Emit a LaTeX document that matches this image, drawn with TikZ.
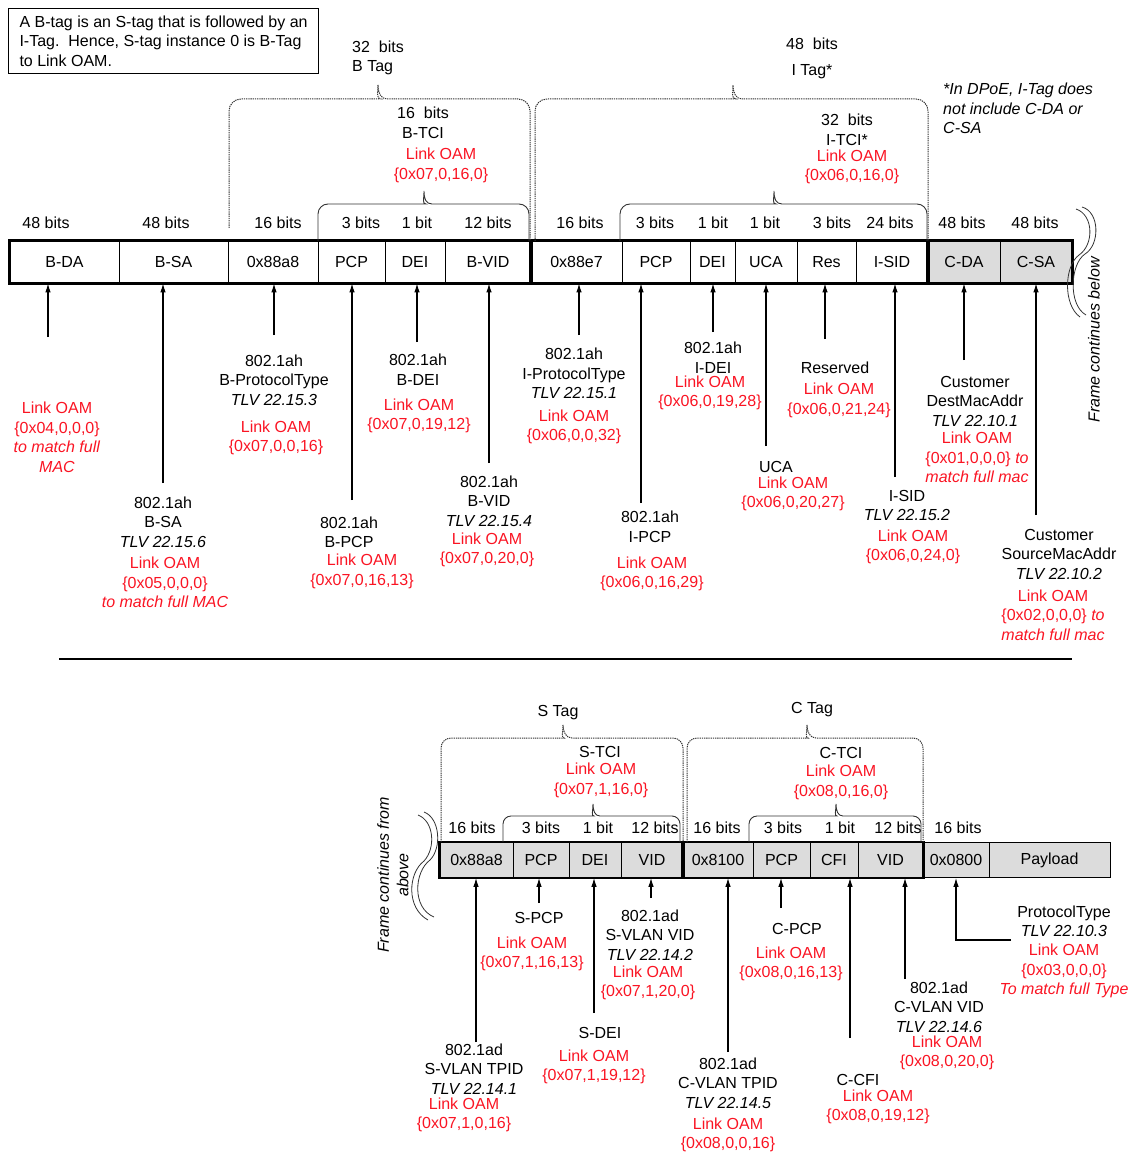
\documentclass[tikz,border=0pt]{standalone}
\usepackage{fontspec}
\setmainfont{Liberation Sans}
\usepackage{tikz}
\usetikzlibrary{arrows.meta, positioning}
\definecolor{oamcolor}{RGB}{250,20,35}
\definecolor{fieldgray}{RGB}{220,220,220}
\newcommand{\diagfont}{\fontsize{16}{19.5}\selectfont}

\begin{document}
\begin{tikzpicture}[
    x=1pt, y=-1pt,
    font=\diagfont,
    field/.style={draw, line width=0.8pt, minimum height=42, inner sep=0pt},
    cfield/.style={field, fill=fieldgray},
    sfield/.style={field, fill=fieldgray, minimum height=35},
    group/.style={line width=2.6pt},
    bits/.style={inner sep=0pt},
    desc/.style={align=center, inner sep=0pt},
    oam/.style={desc, text=oamcolor},
    tagbrace/.style={dash pattern=on 1.3pt off 0.9pt, line width=1pt, black!80},
    tcibrace/.style={line width=0.9pt, black!80},
    contbrace/.style={line width=0.8pt, black!80},
    arrow/.style={-{Latex[length=9pt, width=5.5pt]}, line width=1.1pt}
]
    \useasboundingbox (0,0) rectangle (1134,1155);

    % note on the B-tag
    \node[draw, line width=1.2pt, anchor=north west, minimum width=310, minimum height=65, align=left, inner sep=5pt] (note) at (8,8)
        {A B-tag is an S-tag that is followed by an\\I-Tag.\ \ Hence, S-tag instance 0 is B-Tag\\to Link OAM.};
    \node[desc, anchor=west, align=left, font=\diagfont\itshape] (dpoe) at (943,108.5) {*In DPoE, I-Tag does\\not include C-DA or\\C-SA};

    % top frame
    \node[field, minimum width=109] (bda) at (64.5,262) {B-DA};
    \node[field, minimum width=109] (bsa) at (173.5,262) {B-SA};
    \node[field, minimum width=90] (bpt) at (273,262) {0x88a8};
    \node[field, minimum width=67] (bpcp) at (351.5,262) {PCP};
    \node[field, minimum width=60] (bdei) at (415,262) {DEI};
    \node[field, minimum width=86] (bvid) at (488,262) {B-VID};
    \node[field, minimum width=91] (ipt) at (576.5,262) {0x88e7};
    \node[field, minimum width=68] (ipcp) at (656,262) {PCP};
    \node[field, minimum width=45] (idei) at (712.5,262) {DEI};
    \node[field, minimum width=62] (iuca) at (766,262) {UCA};
    \node[field, minimum width=59] (ires) at (826.5,262) {Res};
    \node[field, minimum width=72] (isid) at (892,262) {I-SID};
    \node[cfield, minimum width=72] (cda) at (964,262) {C-DA};
    \node[cfield, minimum width=72] (csa) at (1036,262) {C-SA};
    \draw[group] (bda.north west) rectangle (bvid.south east);
    \draw[group] (ipt.north west) rectangle (isid.south east);
    \draw[group] (cda.north west) rectangle (csa.south east);

    % sizes above the top frame
    \node[bits] (bits1) at (46,223) {48 bits};
    \node[bits] (bits2) at (166,223) {48 bits};
    \node[bits] (bits3) at (278,223) {16 bits};
    \node[bits] (bits4) at (361,223) {3 bits};
    \node[bits] (bits5) at (417,223) {1 bit};
    \node[bits] (bits6) at (488,223) {12 bits};
    \node[bits] (bits7) at (580,223) {16 bits};
    \node[bits] (bits8) at (655,223) {3 bits};
    \node[bits] (bits9) at (713,223) {1 bit};
    \node[bits] (bits10) at (765,223) {1 bit};
    \node[bits] (bits11) at (832,223) {3 bits};
    \node[bits] (bits12) at (890,223) {24 bits};
    \node[bits] (bits13) at (962,223) {48 bits};
    \node[bits] (bits14) at (1035,223) {48 bits};

    % tags over the top frame
    \node[desc, align=left] (btag) at (378,58) {32~~bits\\B Tag};
    \node[desc] (itag) at (812,58.5) {48~~bits\\[7pt]I Tag*};
    \node[desc] (btci) at (423,123) {16~~bits\\B-TCI};
    \node[oam] (btcioam) at (441,165.5) {Link OAM\\\{0x07,0,16,0\}};
    \node[desc] (itci) at (847,130) {32~~bits\\I-TCI*};
    \node[oam] (itcioam) at (852,167) {Link OAM\\\{0x06,0,16,0\}};

    \draw[tagbrace] (229,228) [rounded corners=12] |- (369,99) [sharp corners] .. controls (376,99) and (378,93) .. (378,85) .. controls (378,93) and (381,99) .. (387,99) [rounded corners=12] -| (530,241);
    \draw[tagbrace] (535,241) [rounded corners=12] |- (724,99) [sharp corners] .. controls (731,99) and (733,93) .. (733,85) .. controls (733,93) and (736,99) .. (742,99) [rounded corners=12] -| (928,241);
    \draw[tcibrace] (318,241) [rounded corners=10] |- (416,204) [sharp corners] .. controls (422,204) and (424,199) .. (424,191) .. controls (424,199) and (426,204) .. (432,204) [rounded corners=10] -| (529,241);
    \draw[tcibrace] (620,241) [rounded corners=10] |- (766,204) [sharp corners] .. controls (772,204) and (774,199) .. (774,191) .. controls (774,199) and (776,204) .. (782,204) [rounded corners=10] -| (927,241);

    % frame continues below
    \draw[contbrace] (1082,207) .. controls (1100,212) and (1100,245) .. (1085,254) .. controls (1070,264) and (1068,305) .. (1086,315);
    \draw[contbrace] (1076,209) .. controls (1094,215) and (1094,245) .. (1079,255) .. controls (1064,266) and (1063,305) .. (1080,317);
    \node[desc, rotate=90, font=\diagfont\itshape] (contbelow) at (1094,340) {Frame continues below};

    % labels under the top frame
    \node[oam] (bdaoam) at (57,437.5) {Link OAM\\\{0x04,0,0,0\}\\\textit{to match full}\\\textit{MAC}};
    \node[desc] (bsalbl) at (163,522) {802.1ah\\B-SA\\\textit{TLV 22.15.6}};
    \node[oam] (bsaoam) at (165,582.5) {Link OAM\\\{0x05,0,0,0\}\\\textit{to match full MAC}};
    \node[desc] (bptlbl) at (274,380) {802.1ah\\B-ProtocolType\\\textit{TLV 22.15.3}};
    \node[oam] (bptoam) at (276,438) {Link OAM\\\{0x07,0,0,16\}};
    \node[desc] (bpcplbl) at (349,532.5) {802.1ah\\B-PCP};
    \node[oam] (bpcpoam) at (362,571.5) {Link OAM\\\{0x07,0,16,13\}};
    \node[desc] (bdeilbl) at (418,369.5) {802.1ah\\B-DEI};
    \node[oam] (bdeioam) at (419,416) {Link OAM\\\{0x07,0,19,12\}};
    \node[desc] (bvidlbl) at (489,501) {802.1ah\\B-VID\\\textit{TLV 22.15.4}};
    \node[oam] (bvidoam) at (487,550) {Link OAM\\\{0x07,0,20,0\}};
    \node[desc] (iptlbl) at (574,373.5) {802.1ah\\I-ProtocolType\\\textit{TLV 22.15.1}};
    \node[oam] (iptoam) at (574,427) {Link OAM\\\{0x06,0,0,32\}};
    \node[desc] (ipcplbl) at (650,527) {802.1ah\\I-PCP};
    \node[oam] (ipcpoam) at (652,574) {Link OAM\\\{0x06,0,16,29\}};
    \node[desc] (ideilbl) at (713,357.5) {802.1ah\\I-DEI};
    \node[oam] (ideioam) at (710,393) {Link OAM\\\{0x06,0,19,28\}};
    \node[desc] (iucalbl) at (776,467) {UCA};
    \node[oam] (iucaoam) at (793,494) {Link OAM\\\{0x06,0,20,27\}};
    \node[desc] (ireslbl) at (835,368) {Reserved};
    \node[oam] (iresoam) at (839,400.5) {Link OAM\\\{0x06,0,21,24\}};
    \node[desc] (isidlbl) at (907,505.5) {I-SID\\\textit{TLV 22.15.2}};
    \node[oam] (isidoam) at (913,547) {Link OAM\\\{0x06,0,24,0\}};
    \node[desc] (cdalbl) at (975,401) {Customer\\DestMacAddr\\\textit{TLV 22.10.1}};
    \node[oam] (cdaoam) at (977,457.5) {Link OAM\\\{0x01,0,0,0\} \textit{to}\\\textit{match full mac}};
    \node[desc] (csalbl) at (1059,554) {Customer\\SourceMacAddr\\\textit{TLV 22.10.2}};
    \node[oam] (csaoam) at (1053,615) {Link OAM\\\{0x02,0,0,0\} \textit{to}\\\textit{match full mac}};

    \coordinate (tbda) at (48,337);
    \coordinate (tbsa) at (163,483);
    \coordinate (tbpt) at (274,335);
    \coordinate (tbpcp) at (352,500);
    \coordinate (tbdei) at (417,342);
    \coordinate (tbvid) at (489,463);
    \coordinate (tipt) at (579,335);
    \coordinate (tipcp) at (641,503);
    \coordinate (tidei) at (713,332);
    \coordinate (tiuca) at (766,446);
    \coordinate (tires) at (825,339);
    \coordinate (tisid) at (895,477);
    \coordinate (tcda) at (964,360);
    \coordinate (tcsa) at (1036,515);
    \draw[arrow] (tbda) -- (tbda |- bda.south);
    \draw[arrow] (tbsa) -- (tbsa |- bsa.south);
    \draw[arrow] (tbpt) -- (tbpt |- bpt.south);
    \draw[arrow] (tbpcp) -- (tbpcp |- bpcp.south);
    \draw[arrow] (tbdei) -- (tbdei |- bdei.south);
    \draw[arrow] (tbvid) -- (tbvid |- bvid.south);
    \draw[arrow] (tipt) -- (tipt |- ipt.south);
    \draw[arrow] (tipcp) -- (tipcp |- ipcp.south);
    \draw[arrow] (tidei) -- (tidei |- idei.south);
    \draw[arrow] (tiuca) -- (tiuca |- iuca.south);
    \draw[arrow] (tires) -- (tires |- ires.south);
    \draw[arrow] (tisid) -- (tisid |- isid.south);
    \draw[arrow] (tcda) -- (tcda |- cda.south);
    \draw[arrow] (tcsa) -- (tcsa |- csa.south);

    % separator
    \draw[line width=1.2pt] (59,659) -- (1072,659);

    % bottom frame
    \node[sfield, minimum width=73] (s88a8) at (476.5,860) {0x88a8};
    \node[sfield, minimum width=56] (spcp) at (541,860) {PCP};
    \node[sfield, minimum width=52] (sdei) at (595,860) {DEI};
    \node[sfield, minimum width=62] (svid) at (652,860) {VID};
    \node[sfield, minimum width=70] (c8100) at (718,860) {0x8100};
    \node[sfield, minimum width=57] (cpcp) at (781.5,860) {PCP};
    \node[sfield, minimum width=48] (ccfi) at (834,860) {CFI};
    \node[sfield, minimum width=65] (cvid) at (890.5,860) {VID};
    \node[sfield, minimum width=66] (p0800) at (956,860) {0x0800};
    \node[sfield, minimum width=121] (payload) at (1049.5,860) {Payload};
    \draw[group] (s88a8.north west) rectangle (svid.south east);
    \draw[group] (c8100.north west) rectangle (cvid.south east);

    \node[bits] (sbits1) at (472,828) {16 bits};
    \node[bits] (sbits2) at (541,828) {3 bits};
    \node[bits] (sbits3) at (598,828) {1 bit};
    \node[bits] (sbits4) at (655,828) {12 bits};
    \node[bits] (cbits1) at (717,828) {16 bits};
    \node[bits] (cbits2) at (783,828) {3 bits};
    \node[bits] (cbits3) at (840,828) {1 bit};
    \node[bits] (cbits4) at (898,828) {12 bits};
    \node[bits] (pbits) at (958,828) {16 bits};

    \node[desc] (stag) at (558,713) {S Tag};
    \node[desc] (ctag) at (812,710) {C Tag};
    \node[desc] (stci) at (600,752) {S-TCI};
    \node[oam] (stcioam) at (601,780.5) {Link OAM\\\{0x07,1,16,0\}};
    \node[desc] (ctci) at (841,753) {C-TCI};
    \node[oam] (ctcioam) at (841,782.5) {Link OAM\\\{0x08,0,16,0\}};

    \draw[tagbrace] (441,842) [rounded corners=10] |- (554,738) [sharp corners] .. controls (561,738) and (563,732) .. (563,725) .. controls (563,732) and (566,738) .. (572,738) [rounded corners=10] -| (683,842);
    \draw[tagbrace] (687,842) [rounded corners=10] |- (798,738) [sharp corners] .. controls (805,738) and (807,732) .. (807,725) .. controls (807,732) and (810,738) .. (816,738) [rounded corners=10] -| (923,842);
    \draw[tcibrace] (503,842) [rounded corners=8] |- (586,816) [sharp corners] .. controls (591,816) and (593,811) .. (593,804) .. controls (593,811) and (595,816) .. (600,816) [rounded corners=8] -| (680,842);
    \draw[tcibrace] (749,842) [rounded corners=8] |- (829,816) [sharp corners] .. controls (834,816) and (836,811) .. (836,804) .. controls (836,811) and (838,816) .. (843,816) [rounded corners=8] -| (921,842);

    % frame continues from above
    \draw[contbrace] (424,812) .. controls (440,818) and (442,848) .. (430,860) .. controls (414,872) and (412,908) .. (434,917);
    \draw[contbrace] (418,815) .. controls (434,821) and (436,848) .. (424,861) .. controls (408,873) and (406,908) .. (428,920);
    \node[desc, rotate=90, font=\diagfont\itshape] (contabove) at (393,875) {Frame continues from\\above};

    % labels under the bottom frame
    \node[desc] (stpidlbl) at (474,1069) {802.1ad\\S-VLAN TPID\\\textit{TLV 22.14.1}};
    \node[oam] (stpidoam) at (464,1115) {Link OAM\\\{0x07,1,0,16\}};
    \node[desc] (spcplbl) at (539,918) {S-PCP};
    \node[oam] (spcpoam) at (532,954) {Link OAM\\\{0x07,1,16,13\}};
    \node[desc] (sdeilbl) at (600,1033) {S-DEI};
    \node[oam] (sdeioam) at (594,1067) {Link OAM\\\{0x07,1,19,12\}};
    \node[desc] (svidlbl) at (650,935) {802.1ad\\S-VLAN VID\\\textit{TLV 22.14.2}};
    \node[oam] (svidoam) at (648,983) {Link OAM\\\{0x07,1,20,0\}};
    \node[desc] (ctpidlbl) at (728,1083) {802.1ad\\C-VLAN TPID\\\textit{TLV 22.14.5}};
    \node[oam] (ctpidoam) at (728,1135) {Link OAM\\\{0x08,0,0,16\}};
    \node[desc] (cpcplbl) at (797,929) {C-PCP};
    \node[oam] (cpcpoam) at (791,964) {Link OAM\\\{0x08,0,16,13\}};
    \node[desc] (ccfilbl) at (858,1080) {C-CFI};
    \node[oam] (ccfioam) at (878,1107) {Link OAM\\\{0x08,0,19,12\}};
    \node[desc] (cvidlbl) at (939,1007) {802.1ad\\C-VLAN VID\\\textit{TLV 22.14.6}};
    \node[oam] (cvidoam) at (947,1053) {Link OAM\\\{0x08,0,20,0\}};
    \node[desc] (protolbl) at (1064,921.5) {ProtocolType\\\textit{TLV 22.10.3}};
    \node[oam] (protooam) at (1064,971) {Link OAM\\\{0x03,0,0,0\}\\\textit{To match full Type}};

    \coordinate (ts88a8) at (476,1042);
    \coordinate (tspcp) at (539,903);
    \coordinate (tsdei) at (594,1013);
    \coordinate (tsvid) at (651,898);
    \coordinate (tc8100) at (728,1052);
    \coordinate (tcpcp) at (781,908);
    \coordinate (tccfi) at (850,1038);
    \coordinate (tcvid) at (905,979);
    \coordinate (tproto) at (1011,940);
    \draw[arrow] (ts88a8) -- (ts88a8 |- s88a8.south);
    \draw[arrow] (tspcp) -- (tspcp |- spcp.south);
    \draw[arrow] (tsdei) -- (tsdei |- sdei.south);
    \draw[arrow] (tsvid) -- (tsvid |- svid.south);
    \draw[arrow] (tc8100) -- (tc8100 |- c8100.south);
    \draw[arrow] (tcpcp) -- (tcpcp |- cpcp.south);
    \draw[arrow] (tccfi) -- (tccfi |- ccfi.south);
    \draw[arrow] (tcvid) -- (tcvid |- cvid.south);
    \draw[arrow] (tproto) -| (p0800.south);
\end{tikzpicture}
\end{document}
